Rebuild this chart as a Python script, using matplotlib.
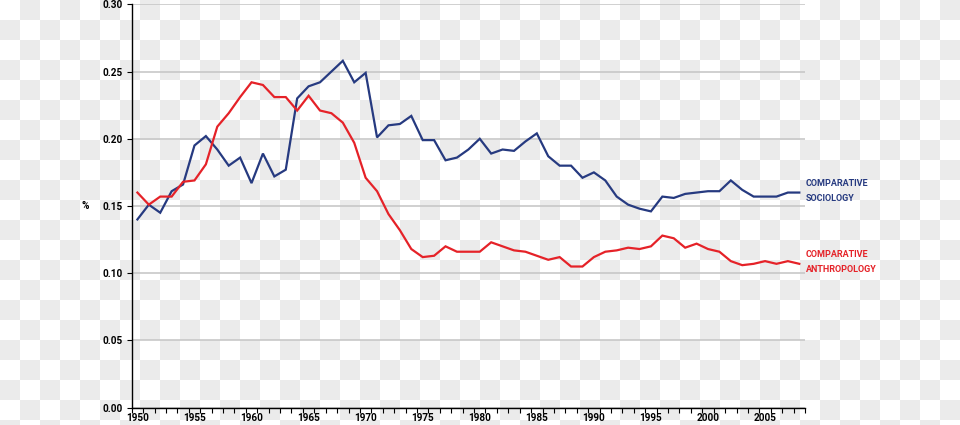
import numpy as np
import matplotlib
matplotlib.use("Agg")
import matplotlib.pyplot as plt

years = list(range(1950, 2009))
sociology = [0.140, 0.151, 0.145, 0.161, 0.166, 0.195, 0.202, 0.192, 0.180, 0.186,
             0.167, 0.189, 0.172, 0.177, 0.230, 0.239, 0.242, 0.250, 0.258, 0.242,
             0.249, 0.201, 0.210, 0.211, 0.217, 0.199, 0.199, 0.184, 0.186, 0.192,
             0.200, 0.189, 0.192, 0.191, 0.198, 0.204, 0.187, 0.180, 0.180, 0.171,
             0.175, 0.169, 0.157, 0.151, 0.148, 0.146, 0.157, 0.156, 0.159, 0.160,
             0.161, 0.161, 0.169, 0.162, 0.157, 0.157, 0.157, 0.160, 0.160]
anthropology = [0.160, 0.151, 0.157, 0.157, 0.168, 0.169, 0.181, 0.209, 0.219, 0.231,
                0.242, 0.240, 0.231, 0.231, 0.221, 0.232, 0.221, 0.219, 0.212, 0.197,
                0.171, 0.161, 0.144, 0.132, 0.118, 0.112, 0.113, 0.120, 0.116, 0.116,
                0.116, 0.123, 0.120, 0.117, 0.116, 0.113, 0.110, 0.112, 0.105, 0.105,
                0.112, 0.116, 0.117, 0.119, 0.118, 0.120, 0.128, 0.126, 0.119, 0.122,
                0.118, 0.116, 0.109, 0.106, 0.107, 0.109, 0.107, 0.109, 0.107]
y_ticks = [0.00, 0.05, 0.10, 0.15, 0.20, 0.25, 0.30]
x_labels = [1950, 1955, 1960, 1965, 1970, 1975, 1980, 1985, 1990, 1995, 2000, 2005]
series_names = ["COMPARATIVE\nSOCIOLOGY", "COMPARATIVE\nANTHROPOLOGY"]

BLUE = "#263a80"
RED = "#e52228"
FONT = ["Roboto", "DejaVu Sans"]

W, H = 960, 425
fig = plt.figure(figsize=(W / 100, H / 100), dpi=100)

# transparent-background checkerboard as in the reference
cell = 20
yy, xx = np.mgrid[0:H, 0:W]
chk = ((xx // cell + yy // cell) % 2).astype(float)
img = np.where(chk[..., None] > 0, np.array([0.925, 0.925, 0.925]), np.array([1.0, 1.0, 1.0]))
fig.figimage(img, xo=0, yo=0, origin="upper", zorder=-10)

left, right, top, bottom = 131.7, 805, 4.3, 407.7
ax = fig.add_axes([left / W, (H - bottom) / H, (right - left) / W, (bottom - top) / H])
ax.patch.set_alpha(0)

ax.plot(years, sociology, color=BLUE, lw=1.6, solid_joinstyle="miter", zorder=3, clip_on=False)
ax.plot(years, anthropology, color=RED, lw=1.6, solid_joinstyle="miter", zorder=3, clip_on=False)

ax.set_xlim(1949.5, 2008.5)
ax.set_ylim(0, 0.30)

ax.set_yticks(y_ticks)
ax.set_yticklabels([f"{v:.2f}" for v in y_ticks], fontfamily=FONT, fontweight="bold", fontsize=7.2)
ax.yaxis.grid(True, color="#c4c4c4", lw=1.1)
ax.set_axisbelow(True)

ax.set_xticks([y + 0.5 for y in range(1949, 2009)])
ax.set_xticklabels([])
ax.set_xticks(x_labels, minor=True)
ax.set_xticklabels([str(v) for v in x_labels], minor=True, fontfamily=FONT, fontweight="bold", fontsize=7.2)
ax.tick_params(axis="x", which="major", direction="out", length=3.5, width=0.8, color="black")
ax.tick_params(axis="x", which="minor", length=0, pad=3.5)
ax.tick_params(axis="y", direction="out", length=3.5, width=0.8, pad=3)

for s in ["top", "right"]:
    ax.spines[s].set_visible(False)
for s in ["left", "bottom"]:
    ax.spines[s].set_color("black")
    ax.spines[s].set_linewidth(1.0)

ax.text(-0.069, 0.15, "%", transform=ax.get_yaxis_transform(), ha="center", va="center",
        fontfamily=FONT, fontweight="bold", fontsize=7.2)

ax.text(2008.55, 0.1612, series_names[0], color=BLUE, ha="left", va="center",
        fontfamily=FONT, fontweight="bold", fontsize=6.5, linespacing=1.85, clip_on=False)
ax.text(2008.55, 0.1084, series_names[1], color=RED, ha="left", va="center",
        fontfamily=FONT, fontweight="bold", fontsize=6.5, linespacing=1.85, clip_on=False)

fig.savefig("out.png", dpi=100)
